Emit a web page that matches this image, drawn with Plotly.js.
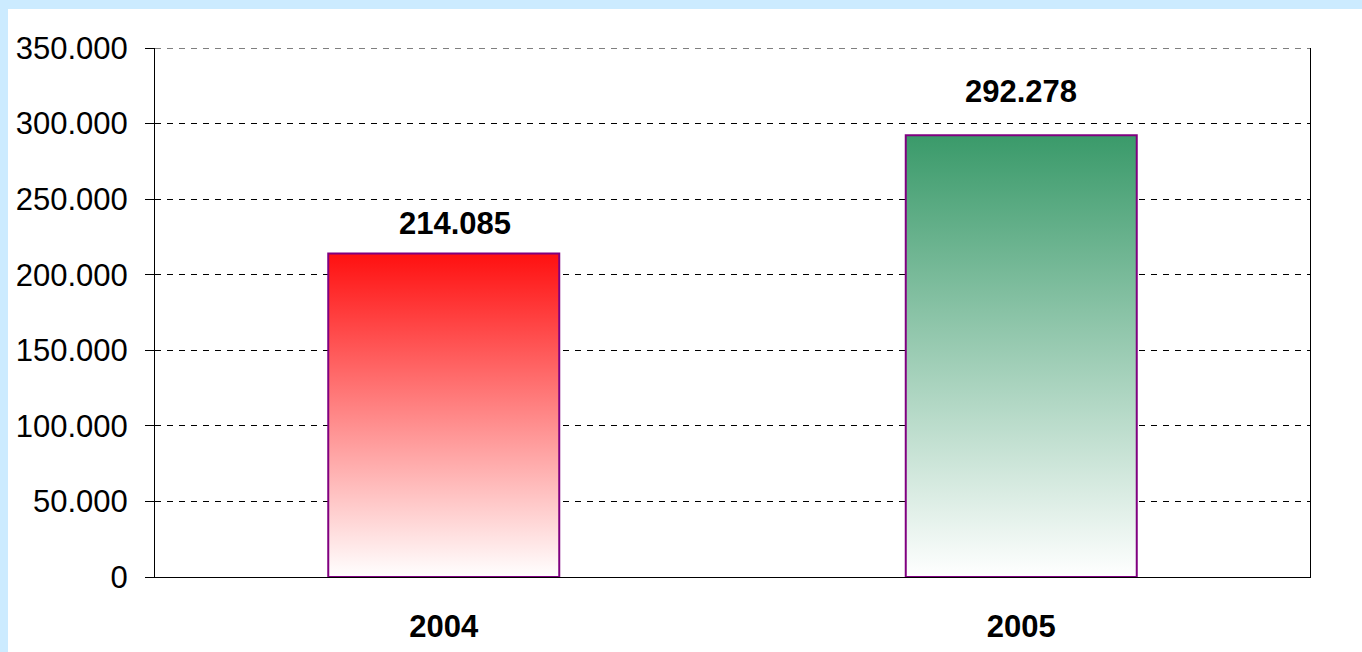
<!DOCTYPE html>
<html>
<head>
<meta charset="utf-8">
<script src="https://cdn.plot.ly/plotly-3.0.1.min.js"></script>
<style>
  html, body { margin: 0; padding: 0; }
  #wrap { position: relative; width: 1362px; height: 652px; background: #CCEBFF; overflow: hidden; }
  #chart { position: absolute; left: 8px; top: 9px; width: 1354px; height: 643px; background: #fff; }
</style>
</head>
<body>
<div id="wrap"><div id="chart"></div></div>
<script>
// ---- data ----
const years = ['2004', '2005'];
const values = [214085, 292278];
const yTickVals = [0, 50000, 100000, 150000, 200000, 250000, 300000, 350000];

// ---- style ----
const topColors = ['#FF1010', '#3A9A6A'];
const labelShiftY = [10, 24];
const labelShiftX = [11, 0];
const FONT = 'Liberation Sans, Arial, sans-serif';

const fmt = v => v.toLocaleString('de-DE');

const trace = {
  type: 'bar',
  x: years,
  y: values,
  marker: { color: topColors, line: { color: '#800080', width: 2 } },
  hoverinfo: 'none'
};

const annotations = years.map((yr, i) => ({
  x: i, y: values[i], xref: 'x', yref: 'y',
  text: '<b>' + fmt(values[i]) + '</b>',
  showarrow: false, yanchor: 'bottom',
  yshift: labelShiftY[i], xshift: labelShiftX[i],
  font: { family: FONT, size: 31, color: '#000' }
}));

const yMax = yTickVals[yTickVals.length - 1];

const layout = {
  width: 1354, height: 643,
  margin: { l: 147, r: 52, t: 39, b: 75, pad: 0 },
  paper_bgcolor: '#ffffff', plot_bgcolor: '#ffffff',
  separators: ',.',
  showlegend: false,
  bargap: 0.6,
  font: { family: FONT, color: '#000' },
  xaxis: {
    type: 'category',
    range: [-0.5, years.length - 0.5],
    showgrid: false, zeroline: false,
    showline: true, linecolor: '#000', linewidth: 1,
    ticks: '', ticklabelstandoff: 22,
    tickfont: { family: FONT, size: 31, color: '#000', weight: 'bold' }
  },
  yaxis: {
    range: [0, yMax],
    tickvals: yTickVals,
    tickformat: ',',
    showgrid: true, gridcolor: '#000', gridwidth: 1, griddash: '6px,6px',
    zeroline: false,
    showline: true, mirror: true, linecolor: '#000', linewidth: 1,
    ticks: 'outside', ticklen: 9, tickcolor: '#000', tickwidth: 1,
    ticklabelstandoff: 11,
    tickfont: { family: FONT, size: 31, color: '#000' }
  },
  shapes: [{
    type: 'line', xref: 'paper', yref: 'y', x0: 0, x1: 1, y0: yMax, y1: yMax,
    line: { color: '#000', width: 1, dash: '6px,6px' }, layer: 'below'
  }],
  annotations: annotations
};

Plotly.newPlot('chart', [trace], layout, { staticPlot: true, displayModeBar: false }).then(gd => {
  const svg = gd.querySelector('svg.main-svg');
  let defs = svg.querySelector('defs');
  const NS = 'http://www.w3.org/2000/svg';
  if (!defs) { defs = document.createElementNS(NS, 'defs'); svg.insertBefore(defs, svg.firstChild); }
  topColors.forEach((c, i) => {
    const g = document.createElementNS(NS, 'linearGradient');
    g.setAttribute('id', 'bargrad' + i);
    g.setAttribute('x1', '0'); g.setAttribute('y1', '0');
    g.setAttribute('x2', '0'); g.setAttribute('y2', '1');
    const s1 = document.createElementNS(NS, 'stop');
    s1.setAttribute('offset', '0'); s1.setAttribute('stop-color', c);
    const s2 = document.createElementNS(NS, 'stop');
    s2.setAttribute('offset', '1'); s2.setAttribute('stop-color', '#ffffff');
    g.appendChild(s1); g.appendChild(s2);
    defs.appendChild(g);
  });
  gd.querySelectorAll('.barlayer .point path').forEach((p, i) => {
    p.style.fill = 'url(#bargrad' + i + ')';
  });
});
</script>
</body>
</html>
